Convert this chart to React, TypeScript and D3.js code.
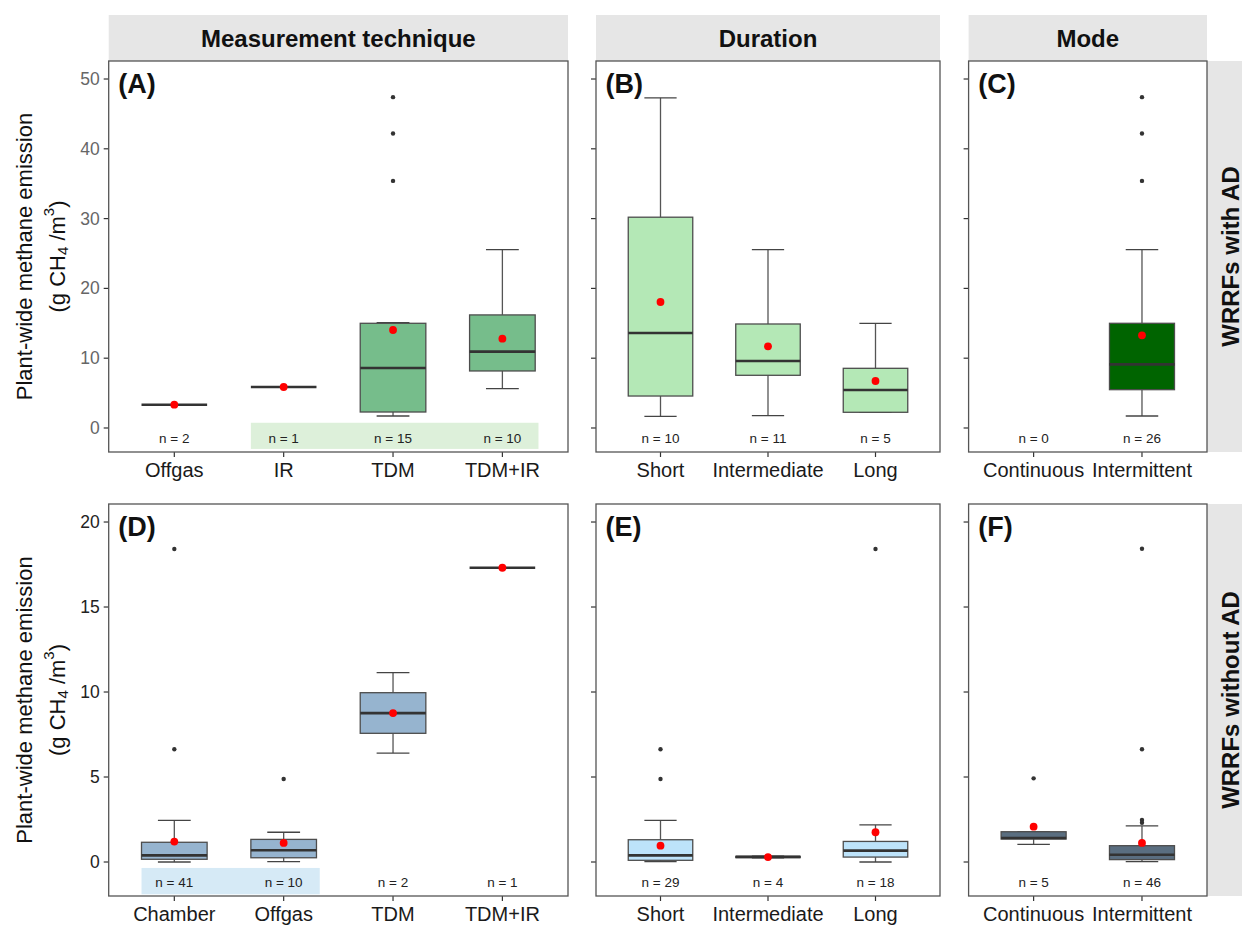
import React from 'react';
import * as d3 from 'd3';

// ---- data ----
// box stats are [lowerWhisker, q1, median, q3, upperWhisker]
const techCatsAD = ['Offgas', 'IR', 'TDM', 'TDM+IR'];
const techNAD = [2, 1, 15, 10];
const techBoxAD = [
  [3.34, 3.34, 3.34, 3.34, 3.34],
  [5.87, 5.87, 5.87, 5.87, 5.87],
  [1.72, 2.29, 8.6, 15.0, 15.1],
  [5.64, 8.17, 10.94, 16.2, 25.55],
];
const techMeanAD = [3.34, 5.87, 14.04, 12.8];
const techOutAD = [[], [], [35.4, 42.2, 47.4], []];

const durCatsAD = ['Short', 'Intermediate', 'Long'];
const durNAD = [10, 11, 5];
const durBoxAD = [
  [1.67, 4.58, 13.6, 30.2, 47.3],
  [1.77, 7.55, 9.6, 14.9, 25.55],
  [2.25, 2.25, 5.44, 8.55, 15.0],
];
const durMeanAD = [18.05, 11.7, 6.73];
const durOutAD = [[], [], []];

const modeCatsAD = ['Continuous', 'Intermittent'];
const modeNAD = [0, 26];
const modeBoxAD = [null, [1.72, 5.49, 9.12, 15.0, 25.55]];
const modeMeanAD = [null, 13.27];
const modeOutAD = [[], [35.4, 42.2, 47.4]];

const techCatsNoAD = ['Chamber', 'Offgas', 'TDM', 'TDM+IR'];
const techNNoAD = [41, 10, 2, 1];
const techBoxNoAD = [
  [0, 0.16, 0.39, 1.16, 2.45],
  [0.02, 0.25, 0.69, 1.33, 1.75],
  [6.41, 7.57, 8.76, 9.96, 11.14],
  [17.31, 17.31, 17.31, 17.31, 17.31],
];
const techMeanNoAD = [1.2, 1.12, 8.76, 17.31];
const techOutNoAD = [[6.63, 18.41], [4.88], [], []];

const durCatsNoAD = ['Short', 'Intermediate', 'Long'];
const durNNoAD = [29, 4, 18];
const durBoxNoAD = [
  [0.02, 0.1, 0.39, 1.31, 2.45],
  [0.25, 0.26, 0.3, 0.33, 0.34],
  [0.0, 0.29, 0.67, 1.21, 2.18],
];
const durMeanNoAD = [0.96, 0.29, 1.75];
const durOutNoAD = [[4.88, 6.63], [], [18.41]];

const modeCatsNoAD = ['Continuous', 'Intermittent'];
const modeNNoAD = [5, 46];
const modeBoxNoAD = [
  [1.04, 1.35, 1.41, 1.78, 1.78],
  [0.02, 0.14, 0.43, 0.96, 2.12],
];
const modeMeanNoAD = [2.08, 1.12];
const modeOutNoAD = [[4.92], [2.31, 2.47, 6.63, 18.43]];

const yTicksAD = [0, 10, 20, 30, 40, 50];
const yTicksNoAD = [0, 5, 10, 15, 20];

// ---- layout ----
const W = 1242, H = 925;
const cols = [
  { x0: 108.7, x1: 568, strip: 'Measurement technique' },
  { x0: 596, x1: 940, strip: 'Duration' },
  { x0: 968.6, x1: 1207, strip: 'Mode' },
];
const rows = [
  { y0: 61, y1: 452, domain: [-3.44, 52.58], ticks: yTicksAD, tickColor: '#666', label: 'WRRFs with AD' },
  { y0: 504, y1: 896, domain: [-2.0, 21.06], ticks: yTicksNoAD, tickColor: '#222', label: 'WRRFs without AD' },
];

const panels = [
  { row: 0, col: 0, tag: '(A)', cats: techCatsAD, n: techNAD, box: techBoxAD, mean: techMeanAD, out: techOutAD, fill: '#76BD8B',
    hl: { from: 1, to: 3, lo: -3.0, hi: 0.75, color: '#DDF0DA' } },
  { row: 0, col: 1, tag: '(B)', cats: durCatsAD, n: durNAD, box: durBoxAD, mean: durMeanAD, out: durOutAD, fill: '#B4E8B6' },
  { row: 0, col: 2, tag: '(C)', cats: modeCatsAD, n: modeNAD, box: modeBoxAD, mean: modeMeanAD, out: modeOutAD, fill: '#006400' },
  { row: 1, col: 0, tag: '(D)', cats: techCatsNoAD, n: techNNoAD, box: techBoxNoAD, mean: techMeanNoAD, out: techOutNoAD, fill: '#96B4CF',
    hl: { from: 0, to: 1, lo: -1.9, hi: -0.35, color: '#D6EAF6' } },
  { row: 1, col: 1, tag: '(E)', cats: durCatsNoAD, n: durNNoAD, box: durBoxNoAD, mean: durMeanNoAD, out: durOutNoAD, fill: '#BDE3FA' },
  { row: 1, col: 2, tag: '(F)', cats: modeCatsNoAD, n: modeNNoAD, box: modeBoxNoAD, mean: modeMeanNoAD, out: modeOutNoAD, fill: '#5A6E80' },
];

const FONT = "'Liberation Sans', Arial, sans-serif";

function Panel({ p }) {
  const c = cols[p.col];
  const r = rows[p.row];
  const x = d3.scalePoint().domain(p.cats).range([c.x0, c.x1]).padding(0.6);
  const y = d3.scaleLinear().domain(r.domain).range([r.y1, r.y0]);
  const step = x.step();
  const bw = step * 0.6;
  const cap = bw / 4;

  return (
    <g>
      {p.hl && (
        <rect
          x={x(p.cats[p.hl.from]) - step * 0.3}
          width={x(p.cats[p.hl.to]) + step * 0.33 - (x(p.cats[p.hl.from]) - step * 0.3)}
          y={y(p.hl.hi)}
          height={y(p.hl.lo) - y(p.hl.hi)}
          fill={p.hl.color}
        />
      )}
      {p.cats.map((cat, i) => {
        const s = p.box[i];
        const cx = x(cat);
        return (
          <g key={cat}>
            {s && (
              <g>
                <line x1={cx} x2={cx} y1={y(s[0])} y2={y(s[1])} stroke="#555" strokeWidth={1.3} />
                <line x1={cx} x2={cx} y1={y(s[3])} y2={y(s[4])} stroke="#555" strokeWidth={1.3} />
                <line x1={cx - cap} x2={cx + cap} y1={y(s[0])} y2={y(s[0])} stroke="#444" strokeWidth={1.3} />
                <line x1={cx - cap} x2={cx + cap} y1={y(s[4])} y2={y(s[4])} stroke="#444" strokeWidth={1.3} />
                <rect x={cx - bw / 2} width={bw} y={y(s[3])} height={Math.max(0, y(s[1]) - y(s[3]))}
                  fill={p.fill} stroke="#4d4d4d" strokeWidth={1.3} />
                <line x1={cx - bw / 2} x2={cx + bw / 2} y1={y(s[2])} y2={y(s[2])} stroke="#333" strokeWidth={2.6} />
              </g>
            )}
            {p.out[i].map((v, k) => (
              <circle key={k} cx={cx} cy={y(v)} r={2.2} fill="#333" />
            ))}
            {p.mean[i] != null && <circle cx={cx} cy={y(p.mean[i])} r={3.9} fill="#FF0000" />}
            <text x={cx} y={r.y1 - 14} fontSize={13.5} textAnchor="middle" dominantBaseline="central" fill="#222">
              {`n = ${p.n[i]}`}
            </text>
            <line x1={cx} x2={cx} y1={r.y1} y2={r.y1 + 5} stroke="#333" strokeWidth={1.2} />
            <text x={cx} y={r.y1 + 24.5} fontSize={20} textAnchor="middle" fill="#1a1a1a">{cat}</text>
          </g>
        );
      })}
      {r.ticks.map(t => (
        <g key={t}>
          <line x1={c.x0 - 5} x2={c.x0} y1={y(t)} y2={y(t)} stroke="#333" strokeWidth={1.2} />
          {p.col === 0 && (
            <text x={c.x0 - 9} y={y(t)} fontSize={17.5} textAnchor="end" dominantBaseline="central" fill={r.tickColor}>{t}</text>
          )}
        </g>
      ))}
      <rect x={c.x0} y={r.y0} width={c.x1 - c.x0} height={r.y1 - r.y0} fill="none" stroke="#555" strokeWidth={1.3} />
      <text x={c.x0 + 9.6} y={r.y0 + 32} fontSize={27} fontWeight="bold" fill="#111">{p.tag}</text>
    </g>
  );
}

export default function App() {
  return (
    <svg width={W} height={H} style={{ position: 'absolute', left: 0, top: 0, background: '#fff' }} fontFamily={FONT}>
      <rect x={0} y={0} width={W} height={H} fill="#fff" />
      {/* top strips */}
      {cols.map(c => (
        <g key={c.strip}>
          <rect x={c.x0} y={15} width={c.x1 - c.x0} height={46} fill="#E6E6E6" />
          <text x={(c.x0 + c.x1) / 2} y={38} fontSize={24} fontWeight="bold" textAnchor="middle" dominantBaseline="central" fill="#111">
            {c.strip}
          </text>
        </g>
      ))}
      {/* right strips */}
      {rows.map(r => (
        <g key={r.label}>
          <rect x={1207} y={r.y0} width={46} height={r.y1 - r.y0} fill="#E6E6E6" />
          <text transform={`translate(1230,${(r.y0 + r.y1) / 2}) rotate(-90)`} fontSize={24} fontWeight="bold"
            textAnchor="middle" dominantBaseline="central" fill="#111">
            {r.label}
          </text>
        </g>
      ))}
      {panels.map(p => <Panel key={p.tag} p={p} />)}
      {/* y titles */}
      {rows.map(r => {
        const cy = (r.y0 + r.y1) / 2;
        return (
          <g key={'yt' + r.label} fill="#111" fontSize={22}>
            <text transform={`translate(24,${cy}) rotate(-90)`} textAnchor="middle" dominantBaseline="central">
              Plant-wide methane emission
            </text>
            <text transform={`translate(57,${cy}) rotate(-90)`} textAnchor="middle" dominantBaseline="central">
              (g CH<tspan fontSize={15} dy={5}>4</tspan><tspan dy={-5}> /m</tspan><tspan fontSize={15} dy={-9}>3</tspan><tspan dy={9}>)</tspan>
            </text>
          </g>
        );
      })}
    </svg>
  );
}
